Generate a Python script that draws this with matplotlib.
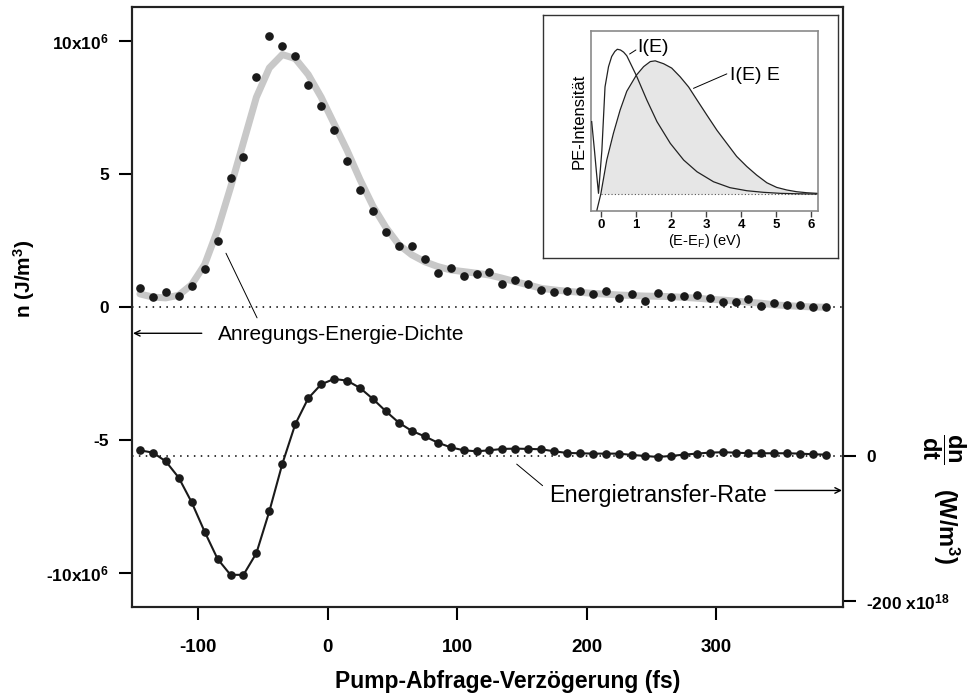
import matplotlib
matplotlib.use("Agg")
import matplotlib.pyplot as plt

plt.rcParams['font.family'] = ['Liberation Sans', 'DejaVu Sans']
plt.rcParams['mathtext.fontset'] = 'custom'
plt.rcParams['mathtext.rm'] = 'Liberation Sans'
plt.rcParams['mathtext.bf'] = 'Liberation Sans:bold'
plt.rcParams['mathtext.it'] = 'Liberation Sans:italic'

# pump-probe delay (fs)
delay = [-145, -135, -125, -115, -105, -95, -85, -75, -65, -55,
         -45, -35, -25, -15, -5, 5, 15, 25, 35, 45,
         55, 65, 75, 85, 95, 105, 115, 125, 135, 145,
         155, 165, 175, 185, 195, 205, 215, 225, 235, 245,
         255, 265, 275, 285, 295, 305, 315, 325, 335, 345,
         355, 365, 375, 385]

# excitation energy density n (1e6 J/m^3), measured points
n_meas = [0.71, 0.38, 0.59, 0.44, 0.80, 1.44, 2.50, 4.87, 5.66, 8.66,
          10.2, 9.81, 9.45, 8.36, 7.57, 6.65, 5.49, 4.42, 3.61, 2.82,
          2.29, 2.29, 1.82, 1.28, 1.47, 1.17, 1.26, 1.34, 0.89, 1.01,
          0.86, 0.66, 0.56, 0.60, 0.60, 0.49, 0.61, 0.34, 0.50, 0.24,
          0.53, 0.40, 0.44, 0.47, 0.36, 0.21, 0.21, 0.31, 0.06, 0.16,
          0.09, 0.09, -0.01, -0.01]

# smooth fit curve (grey)
n_fit = [0.50, 0.38, 0.35, 0.45, 0.85, 1.6, 2.9, 4.5, 6.2, 7.9,
         9.0, 9.5, 9.35, 8.75, 7.9, 6.9, 5.9, 4.8, 3.8, 3.0,
         2.35, 1.97, 1.71, 1.53, 1.40, 1.34, 1.28, 1.21, 1.09, 0.96,
         0.84, 0.71, 0.65, 0.60, 0.56, 0.52, 0.49, 0.46, 0.44, 0.42,
         0.41, 0.40, 0.37, 0.34, 0.30, 0.27, 0.23, 0.19, 0.15, 0.09,
         0.06, 0.03, 0.01, 0.0]

# energy transfer rate dn/dt (1e18 W/m^3)
rate = [7.8, 4.6, -7.4, -29.9, -63.9, -104.4, -142, -164, -164, -134,
        -76.3, -11.0, 43.7, 79.5, 98.8, 106.2, 103.9, 93.8, 78.6, 61.6,
        45.9, 34.5, 27.0, 18.4, 11.9, 7.8, 6.4, 7.8, 9.7, 10.1,
        9.7, 9.2, 6.4, 4.1, 3.7, 3.2, 3.2, 3.2, 1.4, 0.0,
        -1.4, 0.0, 1.8, 3.2, 4.6, 5.1, 4.6, 3.7, 3.7, 3.7,
        3.7, 3.2, 2.3, 1.8]

# inset: photoemission spectra
e_I = [-0.26, -0.18, -0.12, -0.066, 0.03, 0.12, 0.22, 0.31, 0.40, 0.47,
       0.56, 0.65, 0.74, 1.01, 1.31, 1.60, 1.98, 2.36, 2.74, 3.21,
       3.68, 4.16, 4.63, 5.11, 5.58, 6.15]
I_E = [0.50, 0.30, 0.14, 0.005, 0.30, 0.74, 0.88, 0.95, 0.985, 1.0,
       0.995, 0.98, 0.955, 0.82, 0.65, 0.50, 0.35, 0.235, 0.154, 0.085,
       0.044, 0.023, 0.012, 0.005, 0.002, 0.0]
e_IE = [-0.11, 0.0, 0.17, 0.36, 0.55, 0.74, 1.01, 1.22, 1.41, 1.55,
        1.79, 2.02, 2.26, 2.50, 2.74, 3.02, 3.31, 3.59, 3.87, 4.16,
        4.44, 4.73, 5.01, 5.30, 5.58, 5.87, 6.15]
IE_E = [-0.11, 0.0, 0.235, 0.42, 0.58, 0.71, 0.82, 0.88, 0.915, 0.92,
        0.90, 0.87, 0.81, 0.74, 0.65, 0.546, 0.44, 0.35, 0.26, 0.19,
        0.131, 0.078, 0.046, 0.028, 0.016, 0.009, 0.005]

n_ticks = [-10, -5, 0, 5, 10]
n_ticklabels = [r'-10x10$^{\mathbf{6}}$', '-5', '0', '5', r'10x10$^{\mathbf{6}}$']
rate_ticks = [-200, 0]
rate_ticklabels = [r'-200 x10$^{\mathbf{18}}$', '0']


def main():
    fig = plt.figure(figsize=(9.72, 6.97), dpi=100)
    ax = fig.add_axes([0.1355, 0.1296, 0.7318, 0.8604])
    ax2 = ax.twinx()

    ax.set_xlim(-151.3, 398.0)
    ax.set_ylim(-11.26, 11.29)
    ax2.set_ylim(-207.9, 619.3)

    # energy density: grey fit + black dots
    ax.plot(delay, n_fit, color='#c8c8c8', lw=5, solid_capstyle='round', zorder=2)
    ax.plot(delay, n_meas, 'o', color='#1a1a1a', ms=5.2, zorder=3)
    ax.axhline(0, color='black', lw=1.1, ls=(0, (1, 3.5)), zorder=1)

    # energy transfer rate on right axis
    ax2.axhline(0, color='black', lw=1.1, ls=(0, (1, 3.5)), zorder=1)
    ax2.plot(delay, rate, '-o', color='#1a1a1a', lw=1.5, ms=5.2, zorder=3)

    # axes styling
    for a in (ax, ax2):
        for s in a.spines.values():
            s.set_linewidth(1.5)
            s.set_color('#222222')
    ax.set_xticks([-100, 0, 100, 200, 300])
    ax.set_xticklabels(['-100', '0', '100', '200', '300'], fontweight='bold', fontsize=13.5)
    ax.tick_params(axis='x', direction='out', length=9.5, width=1.5, pad=14, top=False)
    ax.set_yticks(n_ticks)
    ax.set_yticklabels(n_ticklabels, fontweight='bold', fontsize=12.5)
    ax.tick_params(axis='y', direction='out', length=9.5, width=1.5, pad=7, right=False)

    ax2.set_yticks(rate_ticks)
    ax2.set_yticklabels(rate_ticklabels, fontweight='bold', fontsize=12.5)
    ax2.tick_params(axis='y', direction='out', length=9.5, width=1.5, pad=7)

    ax.text(0.529, -0.1256, 'Pump-Abfrage-Verzögerung (fs)', transform=ax.transAxes,
            ha='center', va='center', fontsize=16.5, fontweight='bold')
    ax.text(-0.151, 0.546, r'n (J/m$^{\mathbf{3}}$)', transform=ax.transAxes, rotation=90,
            ha='center', va='center', fontsize=15, fontweight='bold')
    fig.text(944 / 972, 1 - 448 / 697, r'$\dfrac{\mathbf{dn}}{\mathbf{dt}}$', rotation=270,
             ha='center', va='center', fontsize=17)
    fig.text(946 / 972, 1 - 526 / 697, r'(W/m$^{\mathbf{3}}$)', rotation=270,
             ha='center', va='center', fontsize=17, fontweight='bold')

    # annotations
    arrow = dict(arrowstyle='->', color='black', lw=1.0, shrinkA=0, shrinkB=0,
                 mutation_scale=10)
    ax.annotate('', xy=(-150.3, -0.98), xytext=(-97.2, -0.98), arrowprops=arrow)
    ax.text(-84.6, -1.04, 'Anregungs-Energie-Dichte', ha='left', va='center', fontsize=15)
    ax.annotate('', xy=(-78.5, 2.03), xytext=(-54.5, -0.4),
                arrowprops=dict(arrowstyle='-', lw=0.7, color='black', shrinkA=0, shrinkB=0))
    ax.annotate('', xy=(397.2, -6.89), xytext=(345.5, -6.89), arrowprops=arrow)
    ax.text(171, -7.09, 'Energietransfer-Rate', ha='left', va='center', fontsize=16.8)
    ax.annotate('', xy=(146, -5.9), xytext=(166, -6.71),
                arrowprops=dict(arrowstyle='-', lw=0.7, color='black', shrinkA=0, shrinkB=0))

    # inset frame
    frame = fig.add_axes([0.559, 0.6298, 0.3028, 0.3487])
    frame.set_xticks([])
    frame.set_yticks([])
    for s in frame.spines.values():
        s.set_linewidth(1.0)
        s.set_color('#333333')

    ins = fig.add_axes([0.608, 0.6977, 0.2333, 0.2578])
    ins.set_xlim(-0.28, 6.18)
    ins.set_ylim(-0.115, 1.126)
    ins.fill_between(e_IE[1:], 0, IE_E[1:], color='#e6e6e6', lw=0, zorder=1)
    ins.plot(e_IE, IE_E, color='#222222', lw=0.9, zorder=3)
    ins.plot(e_I, I_E, color='#222222', lw=0.9, zorder=3)
    ins.plot([0, 6.18], [0, 0], color='#555555', lw=0.8, ls=(0, (1, 2)), zorder=2)
    for s in ins.spines.values():
        s.set_linewidth(1.2)
        s.set_color('#8a8a8a')
    ins.set_yticks([])
    ins.set_xticks(range(7))
    ins.set_xticklabels([str(i) for i in range(7)], fontweight='bold', fontsize=9.5)
    ins.tick_params(axis='x', direction='out', length=4, width=1, color='#444444', pad=2)
    ins.set_xlabel(r'(E-E$_{\mathrm{F}}$) (eV)', fontsize=10.5, labelpad=1)
    ins.set_ylabel('PE-Intensität', fontsize=12, labelpad=3)
    ins.text(1.03, 1.01, 'I(E)', ha='left', va='center', fontsize=14)
    ins.annotate('', xy=(0.82, 0.967), xytext=(1.0, 0.995),
                 arrowprops=dict(arrowstyle='-', lw=0.7, color='black', shrinkA=0, shrinkB=0))
    ins.text(3.68, 0.82, 'I(E) E', ha='left', va='center', fontsize=14)
    ins.annotate('', xy=(2.64, 0.73), xytext=(3.59, 0.83),
                 arrowprops=dict(arrowstyle='-', lw=0.7, color='black', shrinkA=0, shrinkB=0))

    fig.savefig('out.png', dpi=100)


if __name__ == '__main__':
    main()
